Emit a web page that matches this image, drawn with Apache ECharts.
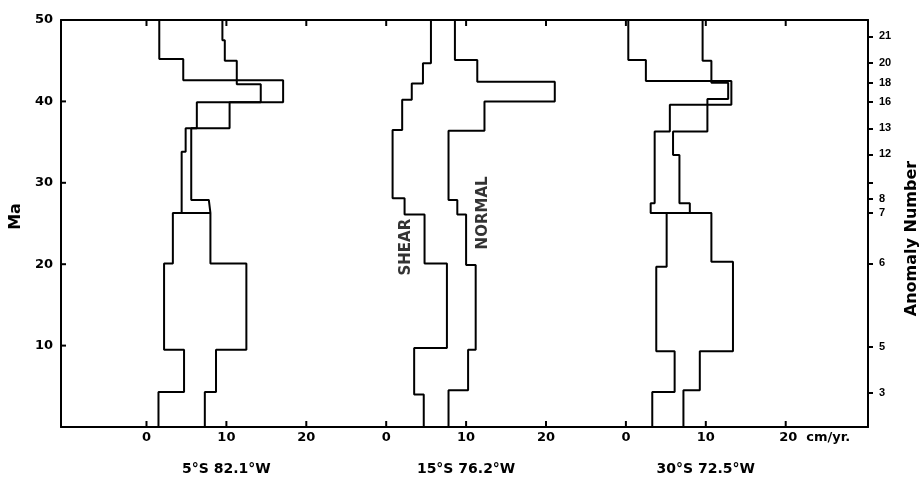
<!DOCTYPE html>
<html>
<head>
<meta charset="utf-8">
<script src="https://cdn.jsdelivr.net/npm/echarts@6/dist/echarts.min.js"></script>
<style>
  html, body { margin: 0; padding: 0; background: #fff; }
  #main { width: 921px; height: 480px; }
</style>
</head>
<body>
<div id="main"></div>
<script>
// spreading rates (cm/yr) against age (Ma), three profiles
var panelTitles = ['5°S 82.1°W', '15°S 76.2°W', '30°S 72.5°W'];
var panelOffsets = [0, 30, 60];
var rateTicks = [0, 10, 20];
var ageTicks = [10, 20, 30, 40];

// 5°S 82.1°W
var shear1Ages = [0, 4.3, 9.5, 20.1, 26.3, 33.8, 36.7, 39.9, 42.6, 45.2, 50];
var shear1Rates = [1.5, 4.7, 2.2, 3.3, 4.4, 4.9, 6.3, 17.1, 4.6, 1.6];
var normal1Ages = [0, 4.3, 9.5, 20.1, 26.3, 27.9, 36.7, 39.9, 42.1, 45.0, 47.5, 50];
var normal1Rates = [7.3, 8.7, 12.5, 8.0, 7.8, 5.6, 10.4, 14.3, 11.3, 9.8, 9.5];
var links1 = [[26.3, 3.3, 8.0]];

// 15°S 76.2°W
var shear2Ages = [0, 4.0, 9.7, 20.1, 26.1, 28.1, 36.5, 40.2, 42.2, 44.7, 50];
var shear2Rates = [4.7, 3.5, 7.6, 4.8, 2.3, 0.8, 2.0, 3.2, 4.6, 5.6];
var normal2Ages = [0, 4.5, 9.5, 19.9, 26.1, 27.9, 36.4, 40.0, 42.4, 45.1, 50];
var normal2Rates = [7.8, 10.25, 11.2, 10.0, 8.9, 7.8, 12.3, 21.1, 11.4, 8.6];
var links2 = [];

// 30°S 72.5°W
var shear3Ages = [0, 4.3, 9.3, 19.7, 26.3, 27.5, 36.3, 39.6, 42.5, 45.1, 50];
var shear3Rates = [3.3, 6.1, 3.8, 5.1, 3.1, 3.6, 5.5, 13.2, 2.5, 0.3];
var normal3Ages = [0, 4.5, 9.3, 20.3, 26.3, 27.5, 33.4, 36.3, 40.3, 42.3, 45.0, 50];
var normal3Rates = [7.2, 9.25, 13.4, 10.7, 8.0, 6.7, 5.9, 10.2, 12.8, 10.7, 9.6];
var links3 = [[26.3, 3.1, 10.7]];

// magnetic anomalies on the right axis
var anomalyAges = [4.2, 9.8, 20.1, 26.3, 28.0, 33.5, 36.7, 39.9, 42.3, 44.7, 48.0];
var anomalyNumbers = ['3', '5', '6', '7', '8', '12', '13', '16', '18', '20', '21'];
var extraTickAges = [30.0];

// curve labels in the middle panel: [text, rate, age]
var curveNames = [['SHEAR', 2.45, 22.1], ['NORMAL', 12.1, 26.3]];

var BOLD = { fontFamily: 'DejaVu Sans', fontWeight: 'bold', color: '#000' };
var X_MIN = -10.7, X_MAX = 90.3, Y_MIN = 0, Y_MAX = 50;
var GRID = { left: 61, right: 53, top: 20, bottom: 53 };
var W = 921, H = 480;

function stepPoints(ages, rates, off) {
    var pts = [];
    for (var i = 0; i < rates.length; i++) {
        pts.push([rates[i] + off, ages[i]]);
        pts.push([rates[i] + off, ages[i + 1]]);
    }
    return pts;
}

function lineSeries(data) {
    return {
        type: 'line',
        data: data,
        symbol: 'none',
        showSymbol: false,
        silent: true,
        lineStyle: { color: '#000', width: 2 }
    };
}

var panels = [
    [shear1Ages, shear1Rates, normal1Ages, normal1Rates, links1],
    [shear2Ages, shear2Rates, normal2Ages, normal2Rates, links2],
    [shear3Ages, shear3Rates, normal3Ages, normal3Rates, links3]
];

var series = [];
panels.forEach(function (p, k) {
    var off = panelOffsets[k];
    series.push(lineSeries(stepPoints(p[0], p[1], off)));
    series.push(lineSeries(stepPoints(p[2], p[3], off)));
    p[4].forEach(function (l) {
        series.push(lineSeries([[l[1] + off, l[0]], [l[2] + off, l[0]]]));
    });
});

series.push({
    type: 'scatter',
    symbolSize: 1,
    itemStyle: { color: 'rgba(0,0,0,0)' },
    silent: true,
    data: curveNames.map(function (c) {
        return { name: c[0], value: [c[1] + panelOffsets[1], c[2]] };
    }),
    label: {
        show: true,
        position: 'inside',
        rotate: 90,
        formatter: '{b}',
        fontFamily: 'DejaVu Sans',
        fontWeight: 'bold',
        fontSize: 15,
        color: '#000'
    }
});

// tick positions on the shared x axis: 0, 10, 20 of every panel
var xTickValues = [];
panelOffsets.forEach(function (off) {
    rateTicks.forEach(function (t) { xTickValues.push(off + t); });
});
var titleValues = panelOffsets.map(function (off) { return off + 10; });

// short inward ticks of the frame, as tiny line segments (6px / 5px long)
var tickLenY = 6 * (Y_MAX - Y_MIN) / (H - GRID.top - GRID.bottom);
var tickLenX = 5 * (X_MAX - X_MIN) / (W - GRID.left - GRID.right);
xTickValues.forEach(function (v) {
    series.push(lineSeries([[v, Y_MIN], [v, Y_MIN + tickLenY]]));
    series.push(lineSeries([[v, Y_MAX], [v, Y_MAX - tickLenY]]));
});
ageTicks.forEach(function (v) {
    series.push(lineSeries([[X_MIN, v], [X_MIN + tickLenX, v]]));
});

function xLabel(v) {
    var r = Math.round(v);
    var k = Math.floor(r / 30);
    var local = r - k * 30;
    if (k === 2 && local === 20) return '{p| }20  cm/yr.';
    return String(local);
}

var frameLine = { show: true, onZero: false, lineStyle: { color: '#000', width: 2 } };
var noLine = { show: false, onZero: false };

var option = {
    animation: false,
    backgroundColor: '#fff',
    grid: {
        left: GRID.left, right: GRID.right, top: GRID.top, bottom: GRID.bottom,
        containLabel: false, outerBoundsMode: 'none'
    },
    xAxis: [
        {
            type: 'value', min: X_MIN, max: X_MAX, position: 'bottom',
            axisLine: frameLine,
            axisTick: { show: false },
            splitLine: { show: false },
            axisLabel: {
                margin: 3,
                customValues: xTickValues,
                fontFamily: 'DejaVu Sans', fontWeight: 'bold', fontSize: 13, color: '#000',
                lineHeight: 16,
                formatter: xLabel,
                rich: { p: { width: 58, fontSize: 13 } }
            }
        },
        {
            type: 'value', min: X_MIN, max: X_MAX, position: 'top',
            axisLine: frameLine, axisTick: { show: false },
            splitLine: { show: false }, axisLabel: { show: false }
        },
        {
            type: 'value', min: X_MIN, max: X_MAX, position: 'bottom',
            axisLine: noLine, axisTick: { show: false }, splitLine: { show: false },
            axisLabel: {
                margin: 35,
                customValues: titleValues,
                fontFamily: 'DejaVu Sans', fontWeight: 'bold', fontSize: 14, color: '#000',
                formatter: function (v) {
                    var i = titleValues.indexOf(Math.round(v));
                    return i < 0 ? '' : panelTitles[i];
                }
            }
        }
    ],
    yAxis: [
        {
            type: 'value', min: Y_MIN, max: Y_MAX, interval: 10, position: 'left',
            axisLine: frameLine,
            axisTick: { show: false },
            splitLine: { show: false },
            axisLabel: {
                margin: 8, fontFamily: 'DejaVu Sans', fontWeight: 'bold', fontSize: 13, color: '#000',
                formatter: function (v) { return v === 0 ? '' : String(v); }
            },
            name: 'Ma', nameLocation: 'middle', nameGap: 34, nameRotate: 90,
            nameTextStyle: Object.assign({ fontSize: 16, padding: [0, 0, 0, 14] }, BOLD)
        },
        {
            type: 'value', min: Y_MIN, max: Y_MAX, position: 'right',
            axisLine: frameLine,
            axisTick: {
                show: true, length: 5, lineStyle: { color: '#000', width: 2 },
                customValues: anomalyAges.concat(extraTickAges)
            },
            splitLine: { show: false },
            axisLabel: {
                margin: 11, fontFamily: 'Liberation Sans', fontWeight: 'bold', fontSize: 11, color: '#000',
                customValues: anomalyAges,
                formatter: function (v) {
                    var i = anomalyAges.indexOf(v);
                    return i < 0 ? '' : anomalyNumbers[i];
                }
            },
            name: 'Anomaly Number', nameLocation: 'middle', nameGap: 36, nameRotate: 90,
            nameTextStyle: Object.assign({ fontSize: 16, padding: [0, 30, 0, 0] }, BOLD)
        }
    ],
    series: series
};

var myChart = echarts.init(document.getElementById('main'));
myChart.setOption(option);
</script>
</body>
</html>
